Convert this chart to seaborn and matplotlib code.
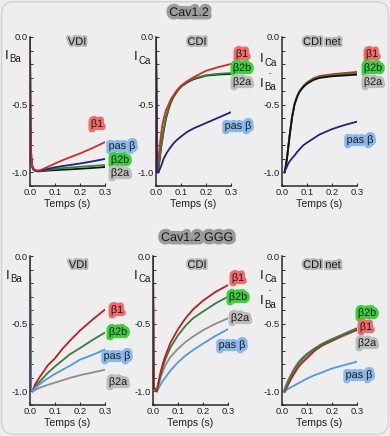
import numpy as np
import pandas as pd
import matplotlib
matplotlib.use("Agg")
import matplotlib.pyplot as plt
import matplotlib.patheffects as pe
from matplotlib.patches import FancyBboxPatch
from matplotlib.ticker import MultipleLocator
import seaborn as sns

sns.set_theme(style="ticks")
plt.rcParams['font.family'] = ['Liberation Sans', 'DejaVu Sans']

# ---------------- data ----------------
# Cav1.2 - VDI (I_Ba)
t_vdi = [0.0, 0.002, 0.005, 0.008, 0.012, 0.018, 0.025, 0.035, 0.045, 0.06, 0.08, 0.1, 0.13, 0.16, 0.2, 0.25, 0.3]
vdi_b1 = [0.0, -0.7, -0.88, -0.94, -0.965, -0.978, -0.984, -0.985, -0.98, -0.968, -0.952, -0.934, -0.91, -0.888, -0.86, -0.82, -0.776]
vdi_nob = [0.0, -0.72, -0.89, -0.945, -0.97, -0.982, -0.988, -0.99, -0.985, -0.978, -0.97, -0.962, -0.953, -0.945, -0.934, -0.918, -0.9]
vdi_b2b = [0.0, -0.72, -0.89, -0.95, -0.975, -0.985, -0.99, -0.99, -0.987, -0.983, -0.978, -0.973, -0.968, -0.964, -0.958, -0.952, -0.945]
vdi_b2a = [0.0, -0.72, -0.89, -0.95, -0.975, -0.985, -0.99, -0.992, -0.99, -0.988, -0.985, -0.983, -0.98, -0.977, -0.973, -0.967, -0.96]

# Cav1.2 - CDI (I_Ca)
t_cdi = [0.0, 0.004, 0.01, 0.015, 0.02, 0.025, 0.03, 0.04, 0.05, 0.06, 0.07, 0.085, 0.1, 0.125, 0.15, 0.2, 0.25, 0.3]
cdi_b1 = [0.0, -1.0, -0.9, -0.8, -0.72, -0.653, -0.61, -0.54, -0.5, -0.457, -0.43, -0.39, -0.36, -0.325, -0.298, -0.25, -0.222, -0.199]
cdi_b2b = [0.0, -1.0, -0.96, -0.89, -0.81, -0.75, -0.69, -0.595, -0.53, -0.478, -0.44, -0.398, -0.365, -0.332, -0.308, -0.282, -0.272, -0.266]
cdi_b2a = [0.0, -1.0, -0.97, -0.9, -0.82, -0.76, -0.7, -0.6, -0.535, -0.48, -0.443, -0.4, -0.367, -0.335, -0.312, -0.285, -0.277, -0.273]
cdi_nob = [0.0, -1.0, -1.0, -0.975, -0.955, -0.93, -0.9, -0.865, -0.835, -0.81, -0.785, -0.758, -0.735, -0.7, -0.675, -0.635, -0.595, -0.555]

# Cav1.2 - CDI net (I_Ca - I_Ba)
t_net = [0.01, 0.015, 0.02, 0.025, 0.03, 0.04, 0.05, 0.06, 0.07, 0.085, 0.1, 0.125, 0.15, 0.2, 0.25, 0.3]
net_b1 = [-1.0, -0.95, -0.89, -0.81, -0.73, -0.59, -0.495, -0.44, -0.4, -0.362, -0.335, -0.305, -0.288, -0.275, -0.266, -0.258]
net_b2b = [-1.0, -0.95, -0.89, -0.81, -0.73, -0.59, -0.495, -0.44, -0.4, -0.365, -0.34, -0.312, -0.297, -0.283, -0.275, -0.27]
net_b2a = [-1.0, -0.96, -0.9, -0.82, -0.74, -0.6, -0.5, -0.445, -0.405, -0.37, -0.345, -0.318, -0.302, -0.29, -0.284, -0.278]
net_nob = [-1.0, -0.975, -0.955, -0.935, -0.92, -0.895, -0.875, -0.85, -0.83, -0.8, -0.78, -0.75, -0.72, -0.68, -0.65, -0.625]

# Cav1.2 GGG - VDI
tg_vdi = [0.0, 0.003, 0.01, 0.02, 0.03, 0.04, 0.05, 0.07, 0.1, 0.13, 0.16, 0.2, 0.25, 0.3]
gvdi_b1 = [0.0, -0.97, -1.0, -0.95, -0.92, -0.89, -0.865, -0.81, -0.755, -0.685, -0.625, -0.55, -0.47, -0.395]
gvdi_b2b = [0.0, -0.97, -1.0, -0.965, -0.945, -0.925, -0.905, -0.865, -0.815, -0.77, -0.725, -0.68, -0.62, -0.565]
gvdi_nob = [0.0, -0.97, -1.0, -0.975, -0.96, -0.945, -0.93, -0.905, -0.87, -0.84, -0.81, -0.765, -0.73, -0.69]
gvdi_b2a = [0.0, -0.97, -1.0, -0.99, -0.98, -0.972, -0.965, -0.952, -0.935, -0.918, -0.9, -0.88, -0.86, -0.84]

# Cav1.2 GGG - CDI
tg_cdi = [0.0, 0.003, 0.015, 0.02, 0.03, 0.04, 0.05, 0.07, 0.1, 0.13, 0.16, 0.2, 0.25, 0.3]
gcdi_b1 = [0.0, -0.97, -1.0, -0.95, -0.86, -0.79, -0.735, -0.64, -0.54, -0.46, -0.395, -0.33, -0.265, -0.215]
gcdi_b2b = [0.0, -0.97, -1.0, -0.96, -0.88, -0.815, -0.76, -0.675, -0.585, -0.515, -0.46, -0.41, -0.35, -0.3]
gcdi_b2a = [0.0, -0.97, -1.0, -0.965, -0.9, -0.85, -0.805, -0.745, -0.685, -0.635, -0.595, -0.548, -0.5, -0.46]
gcdi_nob = [0.0, -0.97, -1.0, -0.985, -0.95, -0.92, -0.895, -0.845, -0.785, -0.735, -0.695, -0.647, -0.59, -0.54]

# Cav1.2 GGG - CDI net
tg_net = [0.01, 0.015, 0.02, 0.03, 0.04, 0.05, 0.06, 0.07, 0.085, 0.1, 0.13, 0.16, 0.2, 0.25, 0.3]
gnet_b2a = [-1.0, -0.975, -0.95, -0.91, -0.875, -0.84, -0.81, -0.785, -0.755, -0.73, -0.69, -0.655, -0.62, -0.58, -0.54]
gnet_b2b = [-1.0, -0.975, -0.95, -0.905, -0.87, -0.835, -0.805, -0.78, -0.75, -0.725, -0.685, -0.65, -0.615, -0.575, -0.535]
gnet_b1 = [-1.0, -0.985, -0.965, -0.93, -0.895, -0.865, -0.835, -0.81, -0.78, -0.755, -0.7, -0.66, -0.625, -0.58, -0.545]
gnet_nob = [-1.0, -0.99, -0.985, -0.975, -0.965, -0.955, -0.945, -0.935, -0.92, -0.905, -0.88, -0.86, -0.83, -0.805, -0.78]

series_names = ["β1", "β2b", "β2a", "pas β"]
x_ticks = [0.0, 0.1, 0.2, 0.3]
y_ticks = [-1.0, -0.5, 0.0]
x_label = "Temps (s)"

# ---------------- styles ----------------
top_colors = {"β1": "#d42a2a", "β2b": "#2a8a2a", "β2a": "#111111", "pas β": "#22227e"}
bot_colors = {"β1": "#b52020", "β2b": "#3d7a3d", "β2a": "#8c8c8c", "pas β": "#4a9be0"}
halo = {"β1": "#f26b6b", "β2b": "#3ccf3c", "β2a": "#bdbdbd", "pas β": "#8ab8ea"}

W, H = 390, 436
fig = plt.figure(figsize=(W / 100, H / 100), dpi=100)
fig.patch.set_facecolor("#eeeeee")
fig.patches.append(FancyBboxPatch((0.004, 0.004), 0.992, 0.992, boxstyle="round,pad=0,rounding_size=0.03",
                                  transform=fig.transFigure, facecolor="#eeeeee", edgecolor="#d2d2d2", lw=1.0, zorder=-10))


def px(x, y):
    return x / W, 1 - y / H


def ftext(x, y, s, size, ha="center", va="center", color="#1a1a1a", halo_c=None, lw=3.0):
    t = fig.text(*px(x, y), s, fontsize=size, ha=ha, va=va, color=color)
    if halo_c:
        t.set_path_effects([pe.withStroke(linewidth=lw, foreground=halo_c)])
    return t


def make_ax(left, top):
    ax = fig.add_axes([left / W, 1 - (top + 149) / H, 75 / W, 149 / H])
    ax.set_facecolor("none")
    return ax


def set_limits(ax):
    ax.set_autoscale_on(False)
    ax.set_xlim(0, 0.3)
    ax.set_ylim(-1.1, 0)


def finish_ax(ax):
    set_limits(ax)
    sns.despine(ax=ax)
    for s in ("left", "bottom"):
        ax.spines[s].set_visible(True)
        ax.spines[s].set_color("#2a2a2a")
        ax.spines[s].set_linewidth(1.1)
        ax.spines[s].set_zorder(5)
    ax.set_xticks(x_ticks)
    ax.set_xticklabels([f"{v:.1f}" for v in x_ticks])
    ax.set_yticks(y_ticks)
    ax.set_yticklabels([f"{v:.1f}" for v in y_ticks])
    ax.yaxis.set_minor_locator(MultipleLocator(0.1))
    ax.tick_params(axis="both", which="major", direction="in", length=2.5, width=0.8,
                   labelsize=6.8, pad=1.5, colors="#333333", labelcolor="#222222")
    ax.tick_params(axis="y", which="minor", direction="in", length=1.8, width=0.7, colors="#333333")
    ax.set_xlabel(x_label, fontsize=7.6, labelpad=1.5, color="#222222")
    ax.set_ylabel("")


def draw(ax, t, curves, colors, lw=1.3, widths=None):
    for name, y in curves:
        df = pd.DataFrame({"t": t, "y": y})
        w = widths.get(name, lw) if widths else lw
        sns.lineplot(data=df, x="t", y="y", ax=ax, estimator=None, sort=False,
                     color=colors[name], lw=w, legend=False)
    finish_ax(ax)


# ---------------- top row ----------------
ax1 = make_ax(30, 37)
draw(ax1, t_vdi, [("β2a", vdi_b2a), ("β2b", vdi_b2b), ("pas β", vdi_nob), ("β1", vdi_b1)], top_colors)
ax2 = make_ax(156, 37)
draw(ax2, t_cdi, [("β2a", cdi_b2a), ("β2b", cdi_b2b), ("β1", cdi_b1), ("pas β", cdi_nob)], top_colors)
ax3 = make_ax(282, 37)
draw(ax3, t_net, [("β1", net_b1), ("β2b", net_b2b), ("β2a", net_b2a), ("pas β", net_nob)], top_colors)

# ---------------- bottom row ----------------
ax4 = make_ax(30, 256)
draw(ax4, tg_vdi, [("β2a", gvdi_b2a), ("β2b", gvdi_b2b), ("β1", gvdi_b1), ("pas β", gvdi_nob)], bot_colors)
ax5 = make_ax(153, 256)
draw(ax5, tg_cdi, [("pas β", gcdi_nob), ("β2a", gcdi_b2a), ("β2b", gcdi_b2b), ("β1", gcdi_b1)], bot_colors)
ax6 = make_ax(282, 256)
draw(ax6, tg_net, [("pas β", gnet_nob), ("β2a", gnet_b2a), ("β1", gnet_b1), ("β2b", gnet_b2b)], bot_colors,
     lw=1.3, widths={"β2a": 2.6})

# ---------------- titles ----------------
ftext(189, 13, "Cav1.2", 9.0, halo_c="#9c9c9c", lw=5)
ftext(197, 238, "Cav1.2 GGG", 9.0, halo_c="#9c9c9c", lw=5)
for x, y, s in [(77, 42, "VDI"), (197, 42, "CDI"), (322, 42, "CDI net"),
                (78, 265, "VDI"), (197, 265, "CDI"), (322, 265, "CDI net")]:
    ftext(x, y, s, 8.0, halo_c="#b8b8b8", lw=3)


# ---------------- y labels ----------------
def ylab(x, ybase, sub):
    ftext(x, ybase, "I", 9.5, ha="left", va="baseline")
    ftext(x + 4.5, ybase + 3.5, sub, 7.0, ha="left", va="baseline")


ylab(5, 59, "Ba")
ylab(134, 60, "Ca")
ylab(260, 62, "Ca")
ftext(270, 73.5, "-", 5.5)
ylab(260, 87, "Ba")
ylab(6, 279, "Ba")
ylab(134, 279, "Ca")
ylab(260, 279, "Ca")
ftext(270, 290.5, "-", 5.5)
ylab(260, 304, "Ba")

# ---------------- series labels ----------------
labels = [
    (97, 124, "β1"), (122, 146, "pas β"), (120, 160, "β2b"), (120, 173, "β2a"),
    (242, 54, "β1"), (242, 68, "β2b"), (242, 82, "β2a"), (238, 126, "pas β"),
    (372, 54, "β1"), (373, 68, "β2b"), (373, 82, "β2a"), (360, 140, "pas β"),
    (117, 310, "β1"), (118, 332, "β2b"), (117, 356, "pas β"), (118, 382, "β2a"),
    (238, 278, "β1"), (238, 297, "β2b"), (240, 318, "β2a"), (232, 345, "pas β"),
    (367, 313, "β2b"), (366, 327, "β1"), (367, 343, "β2a"), (359, 375, "pas β"),
]
for x, y, s in labels:
    ftext(x, y, s, 7.8, halo_c=halo[s], lw=4.5)

# make sure every panel keeps its fixed view limits
for a in (ax1, ax2, ax3, ax4, ax5, ax6):
    set_limits(a)

fig.savefig("out.png", dpi=100, facecolor=fig.get_facecolor())
